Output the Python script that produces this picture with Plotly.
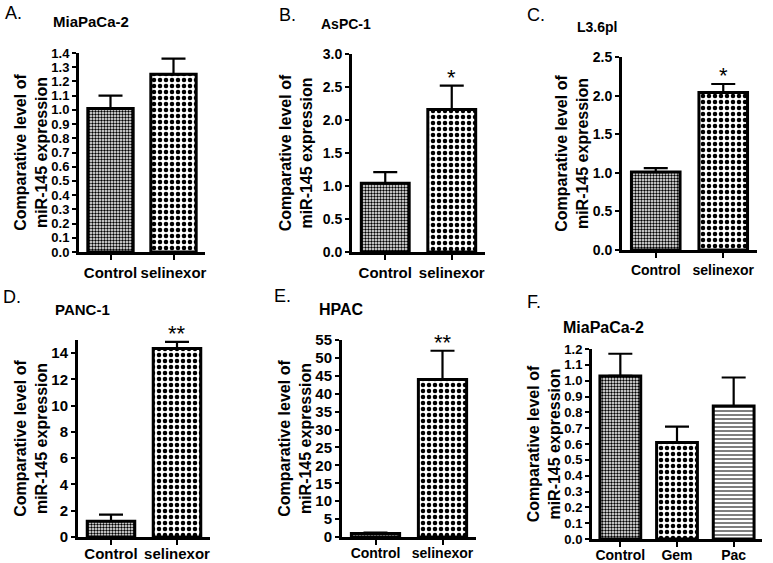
import plotly.graph_objects as go

W, H = 773, 563

cats2 = ["Control", "selinexor"]
cats3 = ["Control", "Gem", "Pac"]

a_vals = [1.01, 1.25]
a_err = [0.09, 0.11]
a_sig = ["", ""]

b_vals = [1.04, 2.16]
b_err = [0.17, 0.36]
b_sig = ["", "*"]

c_vals = [1.01, 2.04]
c_err = [0.05, 0.11]
c_sig = ["", "*"]

d_vals = [1.2, 14.35]
d_err = [0.5, 0.5]
d_sig = ["", "**"]

e_vals = [1.0, 44.0]
e_err = [0.2, 8.0]
e_sig = ["", "**"]

f_vals = [1.03, 0.61, 0.84]
f_err = [0.14, 0.10, 0.18]
f_sig = ["", "", ""]

panel_letters = ["A.", "B.", "C.", "D.", "E.", "F."]
panel_titles = ["MiaPaCa-2", "AsPC-1", "L3.6pl", "PANC-1", "HPAC", "MiaPaCa-2"]
ytitle = "Comparative level of<br>miR-145 expression"

FONT = "Liberation Sans, Arial, sans-serif"

# pattern styles per category
PAT = {
    "Control": dict(shape=".", size=3, solidity=0.5),
    "selinexor": dict(shape=".", size=6, solidity=0.45),
    "Gem": dict(shape=".", size=6, solidity=0.45),
    "Pac": dict(shape="-", size=4, solidity=0.25),
}

panels = [
    dict(cats=cats2, vals=a_vals, err=a_err, sig=a_sig, x0=79, x1=205, yt=53, yb=252, rng=[0, 1.4], dt=0.1, fmt=".1f",
         lx=3, ly=13, tx=91, ty=22, tfs=15, yfs=13, xfs=15, so=0, tls=0),
    dict(cats=cats2, vals=b_vals, err=b_err, sig=b_sig, x0=352, x1=485, yt=54, yb=252, rng=[0, 3.0], dt=0.5, fmt=".1f",
         lx=277, ly=15, tx=346, ty=24, tfs=14, yfs=14, xfs=15, so=7, tls=0),
    dict(cats=cats2, vals=c_vals, err=c_err, sig=c_sig, x0=622, x1=757, yt=57, yb=250, rng=[0, 2.5], dt=0.5, fmt=".1f",
         lx=525, ly=15, tx=597, ty=27, tfs=14, yfs=14, xfs=14, so=1, tls=0),
    dict(cats=cats2, vals=d_vals, err=d_err, sig=d_sig, x0=78, x1=210, yt=340, yb=537, rng=[0, 15], dt=2, fmt="d",
         lx=1, ly=297, tx=82, ty=309, tfs=15, yfs=15, xfs=15, so=0, tls=-4),
    dict(cats=cats2, vals=e_vals, err=e_err, sig=e_sig, x0=342, x1=476, yt=340, yb=537, rng=[0, 55], dt=5, fmt="d",
         lx=272, ly=296, tx=341, ty=309, tfs=16, yfs=15, xfs=14, so=0, tls=-4),
    dict(cats=cats3, vals=f_vals, err=f_err, sig=f_sig, x0=592, x1=762, yt=349, yb=539, rng=[0, 1.2], dt=0.1, fmt=".1f",
         lx=525, ly=302, tx=603, ty=327, tfs=16, yfs=13, xfs=14, so=0, tls=-4),
]

fig = go.Figure()
annotations = []
layout = {}

for i, p in enumerate(panels):
    n = i + 1
    xa = "x" if n == 1 else f"x{n}"
    ya = "y" if n == 1 else f"y{n}"
    xkey = "xaxis" if n == 1 else f"xaxis{n}"
    ykey = "yaxis" if n == 1 else f"yaxis{n}"
    cats = p["cats"]
    fig.add_trace(go.Bar(
        x=cats, y=p["vals"], xaxis=xa, yaxis=ya,
        width=0.72,
        marker=dict(
            color="white",
            line=dict(color="black", width=3),
            pattern=dict(
                shape=[PAT[c]["shape"] for c in cats],
                size=[PAT[c]["size"] for c in cats],
                solidity=[PAT[c]["solidity"] for c in cats],
                fgcolor="black", bgcolor="white", fillmode="replace",
            ),
        ),
        error_y=dict(type="data", array=p["err"], arrayminus=[0] * len(cats), symmetric=False,
                     color="black", thickness=2.2, width=12),
        showlegend=False,
        hoverinfo="skip",
    ))
    layout[xkey] = dict(
        domain=[p["x0"] / W, p["x1"] / W], anchor=ya,
        type="category", range=[-0.5, len(cats) - 0.5],
        showline=True, linecolor="black", linewidth=3,
        ticks="outside", ticklen=5, tickwidth=2, tickcolor="black",
        ticklabelstandoff=p["tls"],
        tickfont=dict(family=FONT, size=p["xfs"], color="black", weight="bold"),
        showgrid=False, zeroline=False, fixedrange=True, automargin=False,
    )
    layout[ykey] = dict(
        domain=[1 - p["yb"] / H, 1 - p["yt"] / H], anchor=xa,
        range=p["rng"], dtick=p["dt"], tick0=0, tickformat=p["fmt"],
        showline=True, linecolor="black", linewidth=3,
        ticks="outside", ticklen=4, tickwidth=2, tickcolor="black",
        tickfont=dict(family=FONT, size=p["yfs"], color="black", weight="bold"),
        showgrid=False, zeroline=False, fixedrange=True, automargin=False,
        title=dict(text=ytitle, font=dict(family=FONT, size=16, color="black", weight="bold"), standoff=p["so"]),
    )
    # significance marks
    for c, v, e, s in zip(cats, p["vals"], p["err"], p["sig"]):
        if s:
            annotations.append(dict(
                x=c, y=v + e, xref=xa, yref=ya, text=s, showarrow=False,
                yanchor="bottom", yshift=-6,
                font=dict(family=FONT, size=22, color="black"),
            ))
    annotations.append(dict(
        x=p["lx"] / W, y=1 - p["ly"] / H, xref="paper", yref="paper", text=panel_letters[i],
        showarrow=False, xanchor="left", yanchor="middle",
        font=dict(family=FONT, size=18, color="black"),
    ))
    annotations.append(dict(
        x=p["tx"] / W, y=1 - p["ty"] / H, xref="paper", yref="paper", text=panel_titles[i],
        showarrow=False, xanchor="center", yanchor="middle",
        font=dict(family=FONT, size=p["tfs"], color="black", weight="bold"),
    ))

fig.update_layout(
    width=W, height=H,
    margin=dict(l=0, r=0, t=0, b=0, autoexpand=False),
    paper_bgcolor="white", plot_bgcolor="white",
    bargap=0.28,
    annotations=annotations,
    **layout,
)

fig.write_html("out.html", config={"displayModeBar": False},
               post_script="document.body.style.margin='0px';")
